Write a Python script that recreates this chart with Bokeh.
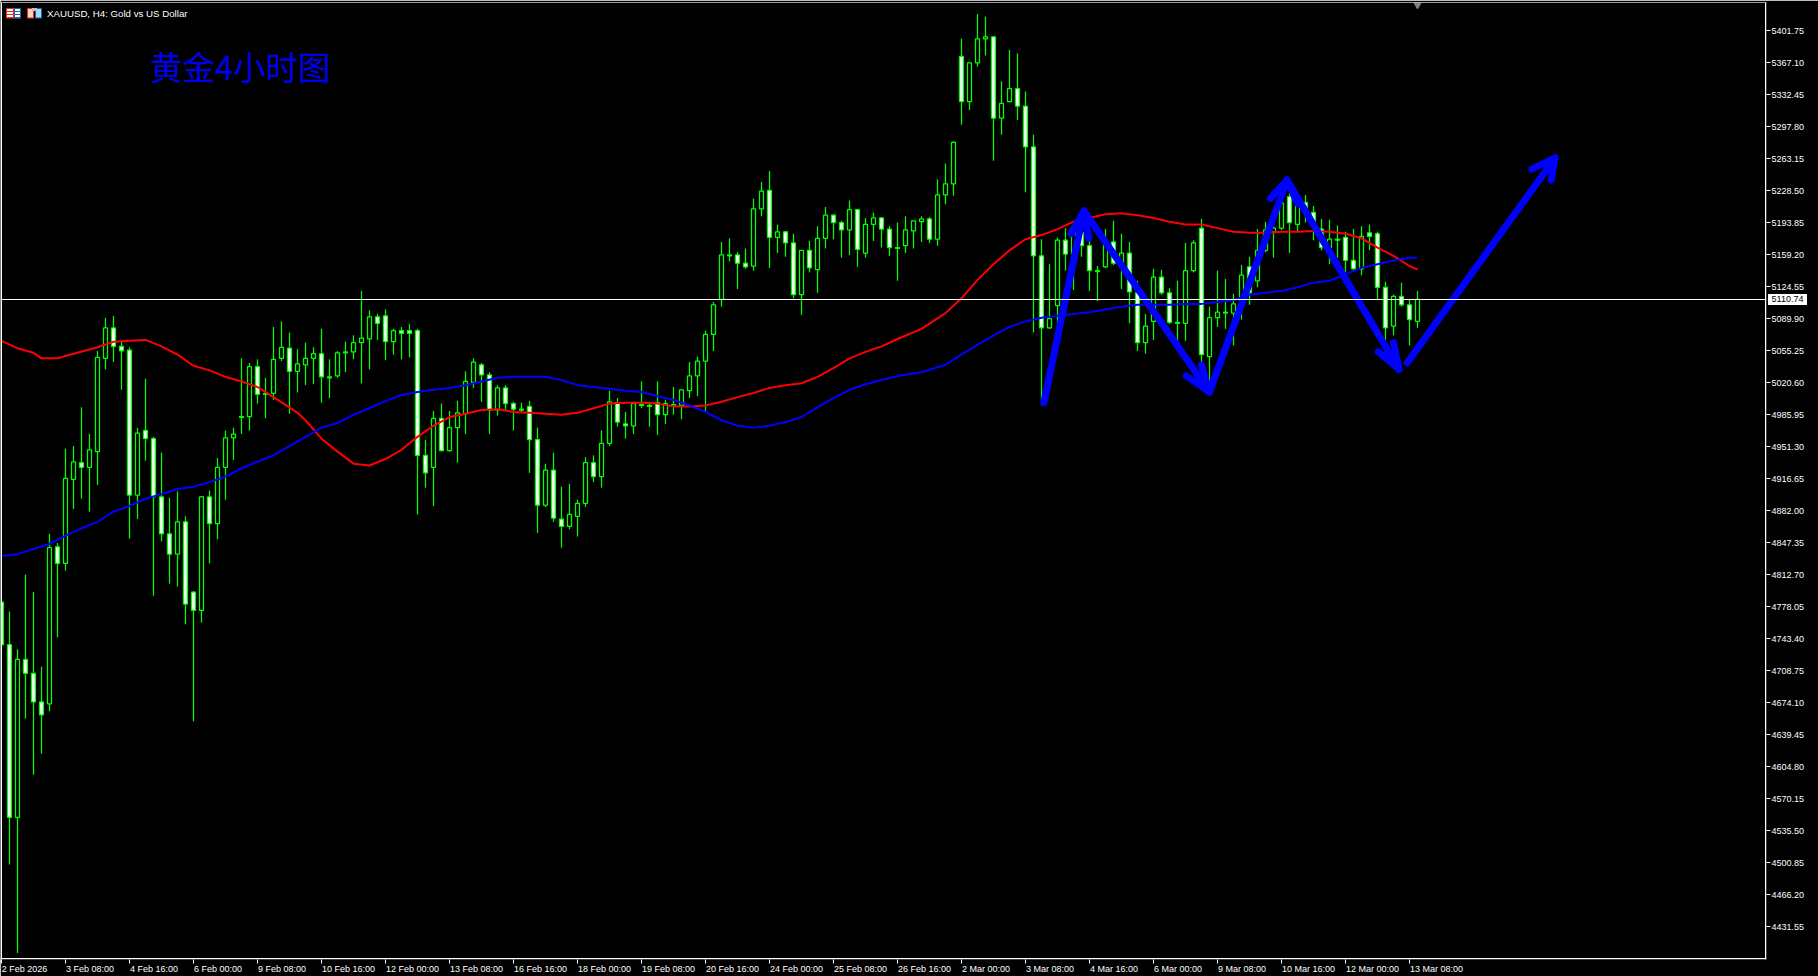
from bokeh.plotting import figure
from bokeh.embed import file_html
from bokeh.resources import INLINE
from bokeh.models import (LinearAxis, FixedTicker, NumeralTickFormatter, Span, Label, Div,
                          BoxAnnotation, Range1d, ColumnDataSource)

open_ = [4783,4737,4550,4721,4706,4675,4673,4843,4825,4916,4934,4929,4946,5047,5080,5060,5056,4899,4969,4960,
         4897,4857,4835,4870,4794,4774,4897,4868,4929,4961,4983,4984,5038,5008,5009,5047,5058,5033,5040,5047,
         5052,5027,5028,5053,5054,5064,5068,5092,5093,5065,5077,5077,5077,4942,4929,4982,4947,4972,4987,5021,
         5040,5029,4991,5015,4998,4992,4995,4959,4888,4926,4873,4865,4876,4890,4934,4919,4955,4999,4976,4974,
         4997,4996,4999,4986,4995,4996,5012,5028,5044,5073,5111,5158,5159,5150,5147,5209,5229,5178,5184,5172,
         5116,5164,5143,5177,5202,5194,5186,5208,5161,5192,5199,5187,5167,5169,5185,5195,5198,5176,5224,5236,
         5374,5325,5367,5393,5395,5307,5325,5339,5320,5276,5158,5080,5104,5175,5160,5183,5169,5142,5146,5173,
         5150,5161,5118,5064,5087,5135,5118,5086,5085,5142,5188,5049,5091,5096,5096,5110,5146,5131,5164,5184,
         5188,5222,5192,5216,5205,5187,5167,5176,5178,5153,5144,5183,5182,5124,5082,5114,5105,5087]
high = [4787,4773,4732,4813,4794,4713,4857,4847,4949,4952,4994,4965,5055,5091,5093,5065,5059,4972,5025,4962,
        4945,4896,4903,4876,4795,4898,4904,4939,4969,4972,5047,5042,5046,5026,5081,5087,5075,5057,5064,5059,
        5079,5046,5055,5065,5072,5120,5099,5095,5100,5079,5081,5084,5079,4959,4990,4998,4990,5001,5033,5047,
        5042,5032,5018,5018,5000,4999,5001,4972,4933,4945,4908,4911,4894,4940,4942,4969,5012,5004,4989,5000,
        5022,5000,5022,5002,5016,5013,5043,5049,5077,5108,5173,5177,5162,5166,5220,5238,5250,5192,5185,5182,
        5164,5174,5190,5211,5203,5196,5218,5209,5199,5205,5200,5190,5194,5201,5196,5201,5200,5241,5258,5282,
        5393,5367,5420,5417,5396,5347,5381,5377,5336,5289,5176,5149,5178,5188,5186,5191,5183,5147,5187,5196,
        5182,5173,5131,5095,5144,5143,5123,5131,5172,5175,5198,5103,5142,5133,5117,5148,5157,5187,5195,5205,
        5221,5226,5221,5224,5212,5198,5197,5191,5184,5187,5190,5192,5184,5130,5116,5129,5111,5120]
low = [4731,4499,4403,4657,4596,4619,4665,4745,4817,4884,4895,4881,4910,5035,5043,5013,4852,4873,4936,4790,
       4849,4803,4800,4759,4654,4761,4825,4851,4894,4937,4965,4969,4998,4982,5002,5044,4987,5010,5018,5019,
       4999,5004,5026,5032,5046,5020,5035,5067,5045,5051,5046,5048,4878,4907,4887,4946,4946,4934,4965,5015,
       5000,4965,4985,4991,4969,4989,4923,4858,4886,4870,4842,4862,4854,4886,4913,4907,4952,4973,4960,4965,
       4993,4973,4964,4976,4986,4981,5004,5006,4989,5055,5103,5152,5122,5144,5142,5201,5145,5161,5157,5112,
       5094,5140,5118,5166,5176,5156,5159,5146,5156,5174,5167,5158,5131,5161,5166,5173,5172,5169,5214,5223,
       5300,5316,5363,5375,5261,5289,5324,5305,5227,5075,4996,5079,5084,5142,5121,5157,5120,5109,5145,5148,
       5122,5085,5055,5052,5067,5116,5084,5056,5066,5140,5034,5020,5081,5079,5061,5089,5105,5124,5162,5156,
       5186,5161,5184,5194,5175,5164,5149,5156,5140,5143,5137,5164,5110,5067,5072,5103,5061,5080]
close = [4737,4550,4721,4706,4675,4661,4842,4825,4917,4935,4929,4948,5048,5080,5060,5055,4899,4966,4960,4897,
         4857,4835,4870,4781,4774,4897,4868,4929,4961,4965,4984,5038,5008,5009,5046,5059,5033,5041,5047,5052,
         5027,5026,5053,5054,5064,5069,5092,5085,5065,5077,5074,5074,4942,4923,4982,4947,4972,4988,5022,5043,
         5029,4991,5015,4998,4992,4991,4959,4888,4926,4874,4865,4878,4890,4934,4919,4955,5000,4978,4974,4998,
         4996,4995,4986,4998,4997,5013,5028,5044,5073,5105,5159,5159,5150,5146,5209,5228,5178,5184,5172,5116,
         5164,5145,5177,5202,5194,5186,5208,5165,5192,5199,5187,5167,5166,5186,5196,5198,5176,5224,5236,5281,
         5325,5367,5393,5395,5307,5323,5339,5320,5276,5158,5080,5090,5175,5160,5183,5169,5142,5141,5175,5150,
         5161,5119,5064,5082,5135,5118,5086,5085,5142,5172,5051,5091,5097,5097,5106,5137,5118,5164,5186,5188,
         5215,5194,5215,5204,5195,5167,5176,5175,5153,5144,5179,5179,5124,5080,5114,5105,5089,5110.74]

red_idx = [0,2,4,5,7,8,12,14,16,18,20,22,24,26,28,30,32,34,36,37,38,40,42,44,46,48,50,52,54,56,58,60,62,64,66,68,70,72,
           74,76,78,80,82,84,86,88,90,92,94,96,98,100,102,104,106,108,110,112,115,118,120,122,124,126,128,130,132,134,
           136,138,140,142,144,146,148,150,152,154,156,158,160,162,164,166,168,170,172,174,176,177]
red_ma = [5066,5058,5053,5047,5047,5049.5,5059,5065,5066,5067,5060,5051,5039,5034,5027,5022,5016,5005,4994,4988,4980,4960,4946,4933,4931,4938,4948,4962,4974,4983.5,4987,4991,4992,4989,4988,4987,4986,4988,
          4993,4998,4999,4999,4998,4995,4995,4996,5000,5005,5009.5,5015,5018,5020,5027,5036.5,5047,5054,5060,5068,5079,5096,5112,5132,5149,5164,5176,5180.5,5187,5195,
          5199,5203,5204,5202,5199,5195,5192,5192,5188,5184,5183,5183,5184,5184,5185,5184,5182,5177,5167,5158,5147,5143]
blue_idx = [0,2,4,6,8,10,12,14,16,18,20,22,24,26,28,30,32,34,36,38,40,42,44,46,48,50,52,54,56,58,60,62,64,66,68,70,72,74,76,78,
            80,82,84,86,88,90,92,94,96,98,100,102,104,106,108,110,112,115,118,120,122,124,126,128,130,132,134,136,138,140,
            142,144,146,148,150,152,154,156,158,160,162,164,166,168,170,172,174,176,177]
blue_ma = [4833,4835,4840.5,4846,4855,4863,4870,4881,4887,4895,4900,4905.5,4908,4913,4919,4928,4935,4942,4952,4962,4972,4977,4986,4993,5001,5007,5010.5,5013,5015,5018,5022,5026,5027,5027,5027,5023.5,5018,5016,5014,5012,
           5010.5,5006,5002,4996,4989,4980,4974,4972,4974,4978,4983.5,4994,5004,5013,5019,5023.5,5028,5032,5040,5051,5061.5,5072,5081,5087,5091,5093,5095,5097,5100,5103,
           5105,5105,5105,5106,5106,5108,5110,5116,5118,5120,5124,5129,5131,5138,5145,5149,5153,5156,5156]

price_ticks = [5401.75,5367.10,5332.45,5297.80,5263.15,5228.50,5193.85,5159.20,5124.55,5089.90,5055.25,5020.60,
               4985.95,4951.30,4916.65,4882.00,4847.35,4812.70,4778.05,4743.40,4708.75,4674.10,4639.45,4604.80,
               4570.15,4535.50,4500.85,4466.20,4431.55]
date_ticks = list(range(0, 177, 8))
date_labels = ["2 Feb 2026","3 Feb 08:00","4 Feb 16:00","6 Feb 00:00","9 Feb 08:00","10 Feb 16:00","12 Feb 00:00",
               "13 Feb 08:00","16 Feb 16:00","18 Feb 00:00","19 Feb 08:00","20 Feb 16:00","24 Feb 00:00","25 Feb 08:00",
               "26 Feb 16:00","2 Mar 00:00","3 Mar 08:00","4 Mar 16:00","6 Mar 00:00","9 Mar 08:00","10 Mar 16:00",
               "12 Mar 00:00","13 Mar 08:00"]
last_price = 5110.74

arrow_xs = [[130.3,135.3],[133.7,135.3,135.9],
            [135.3,151.0],[148.1,151.0,150.0],
            [151.0,160.7],[158.6,160.7,162.0],
            [160.7,174.7],[172.1,174.7,174.0],
            [175.7,194.2],[191.3,194.2,193.7]]
arrow_ys = [[4999,5206.5],[5182,5206.5,5177],
            [5206.5,5010.5],[5028,5010.5,5040],
            [5010.5,5240],[5220,5240,5215],
            [5240,5035],[5054,5035,5064],
            [5042,5264],[5252,5264,5240]]

n = len(open_)
idx = list(range(n))
top = [max(a, b) for a, b in zip(open_, close)]
bot = [min(a, b) for a, b in zip(open_, close)]
fill = ["#ffffff" if c < o else "#000000" for o, c in zip(open_, close)]
src = ColumnDataSource(dict(x=idx, high=high, low=low, top=top, bot=bot, fill=fill))

# axis calibration of the reference: 8 px per bar, 32 px per 34.65 price units
PPX = 34.65 / 32
P0 = 5435.04
X_LO, X_HI = -0.125, 220.625
Y_HI, Y_LO = P0 - 2.5 * PPX, P0 - 959.5 * PPX
px2x = lambda x: (x - 1.5) / 8
px2y = lambda y: P0 - y * PPX

GREEN = "#00ff00"
FONT = "Liberation Sans"
p = figure(width=1818, height=976, output_backend="svg", toolbar_location=None,
           x_axis_location=None, y_axis_location=None,
           x_range=Range1d(X_LO, X_HI), y_range=Range1d(Y_LO, Y_HI),
           background_fill_color="#000000", border_fill_color="#000000",
           min_border_left=0, min_border_right=52, min_border_top=2, min_border_bottom=17,
           outline_line_color=None)
p.grid.visible = False

# tick marks of the date axis, then its labels, which start at the tick as in the reference
tick_ax = LinearAxis(ticker=FixedTicker(ticks=date_ticks), major_label_text_color=None,
                     major_label_text_font_size="1px", major_label_standoff=0,
                     axis_line_color=None, major_tick_line_color="#ffffff", major_tick_out=4, major_tick_in=0,
                     minor_tick_line_color=None)
p.add_layout(tick_ax, "below")
label_width = {10: 46, 11: 49, 12: 54}
label_ticks = [t + label_width[len(s)] / 16 for t, s in zip(date_ticks, date_labels)]
xax = LinearAxis(ticker=FixedTicker(ticks=label_ticks),
                 major_label_overrides={t: s for t, s in zip(label_ticks, date_labels)},
                 major_label_text_color="#ffffff", major_label_text_font=FONT, major_label_text_font_size="9px",
                 major_label_standoff=0, axis_line_color=None, major_tick_line_color=None, major_tick_out=0,
                 major_tick_in=0, minor_tick_line_color=None)
p.add_layout(xax, "below")
yax = LinearAxis(ticker=FixedTicker(ticks=price_ticks), formatter=NumeralTickFormatter(format="0.00"),
                 major_label_text_color="#ffffff", major_label_text_font=FONT, major_label_text_font_size="9px",
                 major_label_standoff=1,
                 axis_line_color=None, major_tick_line_color="#ffffff", major_tick_out=4, major_tick_in=0,
                 minor_tick_line_color=None)
p.add_layout(yax, "right")

for loc, dim in ((px2x(1.5), "height"), (px2x(1765.5), "height"), (px2y(2.5), "width"), (px2y(958.5), "width")):
    p.add_layout(Span(location=loc, dimension=dim, line_color="#ffffff", line_width=1))
p.add_layout(Span(location=last_price, dimension="width", line_color="#ffffff", line_width=1))

p.segment("x", "high", "x", "low", source=src, line_color=GREEN, line_width=1.25)
p.vbar("x", 0.5, "top", "bot", source=src, fill_color="fill", line_color=GREEN, line_width=1.25)
p.line(red_idx, red_ma, line_color="#ff0000", line_width=2)
p.line(blue_idx, blue_ma, line_color="#0000ff", line_width=2)
p.multi_line(arrow_xs, arrow_ys, line_color="#0000ff", line_width=7, line_cap="round", line_join="round")
p.scatter([177], [px2y(5)], marker="inverted_triangle", size=7, color="#808080")

p.add_layout(Label(x=px2x(47), y=px2y(13.5), text="XAUUSD, H4:  Gold vs US Dollar", text_color="#ffffff",
                   text_font=FONT, text_font_size="9.7px", text_baseline="middle"))
p.add_layout(Label(x=px2x(150), y=px2y(65), text="黄金4小时图", text_color="#0000f0",
                   text_font="Noto Sans CJK SC", text_font_size="32.5px", text_baseline="middle"))

def box(l, r, t, b, c):
    p.add_layout(BoxAnnotation(left=px2x(l), right=px2x(r), top=px2y(t), bottom=px2y(b), fill_color=c, fill_alpha=1,
                               line_color=None, level="overlay"))
# window icons of the chart's header
box(6, 21, 8, 18.5, "#e03020"); box(14, 21, 8, 18.5, "#2060b0")
for yy in (9, 12, 15):
    box(7, 13, yy, yy + 2, "#ffffff"); box(15, 20, yy, yy + 2, "#ffffff")
box(27, 34, 8, 18.5, "#e03020"); box(28, 33, 9, 17.5, "#ffd0c8")
box(35, 42, 8, 18.5, "#2060b0"); box(36, 41, 9, 17.5, "#a8d8f8")
box(32, 37, 8, 11, "#c0c0c0")

# white flag with the current price on the price scale
p.elements = [Div(text=f"{last_price:.2f}", margin=0,
                  styles={"position": "absolute", "left": "1768px", "top": "294px", "width": "39px", "height": "11px",
                          "line-height": "11px", "text-align": "center", "background": "#ffffff", "color": "#000000",
                          "font-family": FONT, "font-size": "9px", "z-index": "10"})]

open("out.html", "w").write(file_html(p, INLINE))
